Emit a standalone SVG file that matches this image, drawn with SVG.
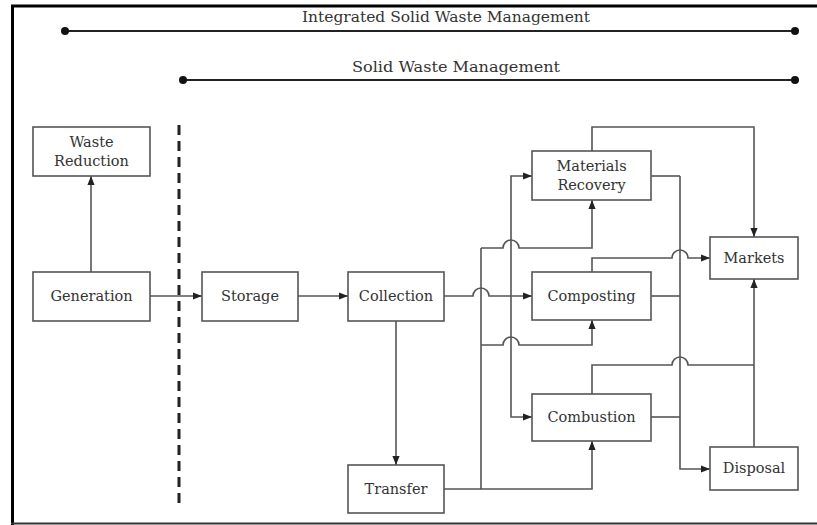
<svg xmlns="http://www.w3.org/2000/svg" width="817" height="525" viewBox="0 0 817 525">
<style>
.box{fill:#fff;stroke:#555;stroke-width:1.6}
.lbl{font-family:"DejaVu Serif","Liberation Serif",serif;font-size:14.5px;fill:#333;text-anchor:middle}
.ttl{font-family:"DejaVu Serif","Liberation Serif",serif;font-size:14px;fill:#333;text-anchor:middle}
.c{fill:none;stroke:#555;stroke-width:1.6}
.ca{fill:none;stroke:#555;stroke-width:1.6;marker-end:url(#ah)}
</style>
<defs>
<marker id="ah" viewBox="0 0 10 10" refX="10" refY="5" markerWidth="9" markerHeight="9" markerUnits="userSpaceOnUse" orient="auto">
<path d="M0,1 L10,5 L0,9 z" fill="#222"/>
</marker>
</defs>
<rect x="0" y="0" width="817" height="525" fill="#fff"/>
<g id="frame">
<line x1="11" y1="6" x2="817" y2="6" stroke="#000" stroke-width="3"/>
<line x1="12.5" y1="5" x2="12.5" y2="525" stroke="#000" stroke-width="3"/>
<line x1="11" y1="523.5" x2="817" y2="523.5" stroke="#333" stroke-width="2"/>
</g>
<g id="scope-lines">
<text class="ttl" x="446" y="22" textLength="288" lengthAdjust="spacingAndGlyphs">Integrated Solid Waste Management</text>
<line x1="65" y1="31" x2="795" y2="31" stroke="#222" stroke-width="2"/>
<circle cx="65" cy="31" r="4" fill="#111"/>
<circle cx="795" cy="31" r="4" fill="#111"/>
<text class="ttl" x="456" y="72" textLength="208" lengthAdjust="spacingAndGlyphs">Solid Waste Management</text>
<line x1="183" y1="80" x2="795" y2="80" stroke="#222" stroke-width="2"/>
<circle cx="183" cy="80" r="4" fill="#111"/>
<circle cx="795" cy="80" r="4" fill="#111"/>
<line x1="179" y1="125" x2="179" y2="507" stroke="#222" stroke-width="3" stroke-dasharray="10,6"/>
</g>
<g id="connectors">
<path class="ca" d="M91,272 V176"/>
<path class="ca" d="M150,296 H202"/>
<path class="ca" d="M298,296 H348"/>
<path class="ca" d="M396,321 V465"/>
<path class="ca" d="M444,296 H473 A8,8 0 0 1 489,296 H532"/>
<path class="ca" d="M511,296 V176 H532"/>
<path class="ca" d="M511,296 V417 H532"/>
<path class="c" d="M444,489 H481 V248"/>
<path class="ca" d="M481,248 H503 A8,8 0 0 1 519,248 H592 V200"/>
<path class="ca" d="M481,345 H503 A8,8 0 0 1 519,345 H592 V320"/>
<path class="ca" d="M481,489 H592 V441"/>
<path class="ca" d="M592,151 V127 H754 V237"/>
<path class="c" d="M651,176 H680"/>
<path class="c" d="M651,296 H680"/>
<path class="c" d="M651,417 H680"/>
<path class="ca" d="M680,176 V469 H710"/>
<path class="ca" d="M592,272 V258 H672 A8,8 0 0 1 688,258 H710"/>
<path class="c" d="M592,394 V365 H672 A8,8 0 0 1 688,365 H754"/>
<path class="ca" d="M754,447 V279"/>
</g>
<g id="waste-reduction"><rect class="box" x="33" y="127" width="117" height="49"/><text class="lbl" x="91.5" y="147">Waste</text><text class="lbl" x="91.5" y="166">Reduction</text></g>
<g id="generation"><rect class="box" x="33" y="272" width="117" height="49"/><text class="lbl" x="91.5" y="301">Generation</text></g>
<g id="storage"><rect class="box" x="202" y="272" width="96" height="49"/><text class="lbl" x="250" y="301">Storage</text></g>
<g id="collection"><rect class="box" x="348" y="272" width="96" height="49"/><text class="lbl" x="396" y="301">Collection</text></g>
<g id="transfer"><rect class="box" x="348" y="465" width="96" height="48"/><text class="lbl" x="396" y="494">Transfer</text></g>
<g id="materials-recovery"><rect class="box" x="532" y="151" width="119" height="49"/><text class="lbl" x="591.5" y="171">Materials</text><text class="lbl" x="591.5" y="190">Recovery</text></g>
<g id="composting"><rect class="box" x="532" y="272" width="119" height="48"/><text class="lbl" x="591.5" y="301">Composting</text></g>
<g id="combustion"><rect class="box" x="532" y="394" width="119" height="47"/><text class="lbl" x="591.5" y="422">Combustion</text></g>
<g id="markets"><rect class="box" x="710" y="237" width="88" height="42"/><text class="lbl" x="754" y="263">Markets</text></g>
<g id="disposal"><rect class="box" x="710" y="447" width="88" height="43"/><text class="lbl" x="754" y="473">Disposal</text></g>
</svg>
